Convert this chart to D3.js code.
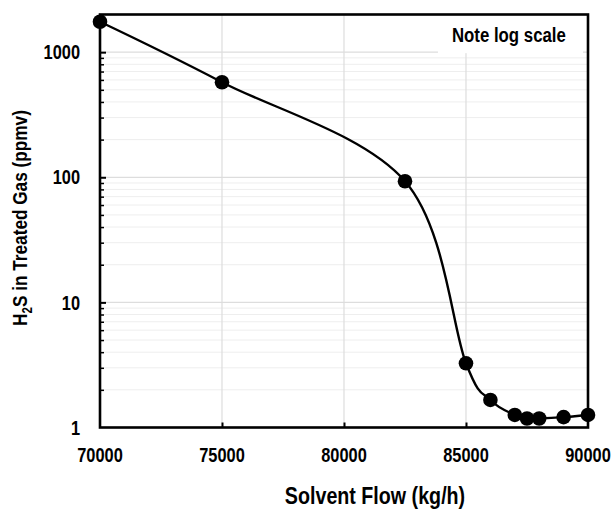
<!DOCTYPE html>
<html>
<head>
<meta charset="utf-8">
<script src="https://cdn.jsdelivr.net/npm/d3@7"></script>
<style>
    body { margin: 0; background: #fff; }
    svg text { font-family: Arial, "Liberation Sans", sans-serif; font-weight: bold; fill: #000; }
</style>
</head>
<body>
<div id="chart"></div>
<script>

// solvent flow (kg/h) and H2S in treated gas (ppmv)
const flows = [70000, 75000, 82500, 85000, 86000, 87000, 87500, 88000, 89000, 90000];
const h2s = [1750, 575, 93, 3.26, 1.66, 1.26, 1.18, 1.18, 1.21, 1.26];

const xTicks = [70000, 75000, 80000, 85000, 90000];
const yTicks = [1, 10, 100, 1000];
const noteText = "Note log scale";

const width = 613, height = 512;
const margin = {top: 14.5, right: 25, bottom: 84.5, left: 100};

// the original uses a narrow bold face, so squeeze the glyphs horizontally
const squeeze = 0.82;
function place(px, py, rot) {
    return "translate(" + px + "," + py + ")" + (rot ? " rotate(" + rot + ")" : "") + " scale(" + squeeze + ",1)";
}

const svg = d3.select("#chart").append("svg")
    .attr("width", width)
    .attr("height", height);

// scales
const x = d3.scaleLinear()
    .domain([70000, 90000])
    .range([margin.left, width - margin.right]);

const y = d3.scaleLog()
    .domain([1, 2000])
    .range([height - margin.bottom, margin.top]);

const data = flows.map((f, i) => ({flow: f, ppm: h2s[i]}));

// minor log gridlines (2..9 of every decade)
let minor = [];
yTicks.forEach(d => {
    for (let k = 2; k <= 9; k++) {
        if (d * k <= 2000) minor.push(d * k);
    }
});

svg.append("g")
    .selectAll("line")
    .data(minor)
    .enter()
    .append("line")
    .attr("x1", x.range()[0])
    .attr("x2", x.range()[1])
    .attr("y1", d => y(d))
    .attr("y2", d => y(d))
    .attr("stroke", "#eeeeee")
    .attr("stroke-width", 1);

svg.append("g")
    .selectAll("line")
    .data(yTicks.slice(1))
    .enter()
    .append("line")
    .attr("x1", x.range()[0])
    .attr("x2", x.range()[1])
    .attr("y1", d => y(d))
    .attr("y2", d => y(d))
    .attr("stroke", "#dddddd")
    .attr("stroke-width", 1.2);

svg.append("g")
    .selectAll("line")
    .data(xTicks.slice(1, -1))
    .enter()
    .append("line")
    .attr("x1", d => x(d))
    .attr("x2", d => x(d))
    .attr("y1", y.range()[0])
    .attr("y2", y.range()[1])
    .attr("stroke", "#dddddd")
    .attr("stroke-width", 1.2);

// note box covers the gridlines
const noteLeft = x(83850);
svg.append("rect")
    .attr("x", noteLeft)
    .attr("y", margin.top)
    .attr("width", x(90000) - noteLeft - 5)
    .attr("height", y(1000) - margin.top + 1)
    .attr("fill", "#fff");

svg.append("text")
    .attr("transform", place(noteLeft + 14, 42))
    .attr("font-size", 20.5)
    .text(noteText);

// inward ticks on the axes
const xAxis = d3.axisTop(x)
    .tickValues(xTicks.slice(1, -1))
    .tickSize(5)
    .tickFormat("");

svg.append("g")
    .attr("transform", "translate(0," + y.range()[0] + ")")
    .call(xAxis)
    .call(g => g.select(".domain").remove())
    .call(g => g.selectAll("line").attr("stroke", "#000").attr("stroke-width", 2));

const yMajor = d3.axisRight(y)
    .tickValues(yTicks.slice(1))
    .tickSize(6)
    .tickFormat("");

svg.append("g")
    .attr("transform", "translate(" + x.range()[0] + ",0)")
    .call(yMajor)
    .call(g => g.select(".domain").remove())
    .call(g => g.selectAll("line").attr("stroke", "#000").attr("stroke-width", 2));

const yMinor = d3.axisRight(y)
    .tickValues(minor)
    .tickSize(4)
    .tickFormat("");

svg.append("g")
    .attr("transform", "translate(" + x.range()[0] + ",0)")
    .call(yMinor)
    .call(g => g.select(".domain").remove())
    .call(g => g.selectAll("line").attr("stroke", "#000").attr("stroke-width", 1.5));

// frame
svg.append("rect")
    .attr("x", x.range()[0])
    .attr("y", y.range()[1])
    .attr("width", x.range()[1] - x.range()[0])
    .attr("height", y.range()[0] - y.range()[1])
    .attr("fill", "none")
    .attr("stroke", "#000")
    .attr("stroke-width", 2.6);

// tick labels
svg.append("g")
    .selectAll("text")
    .data(xTicks)
    .enter()
    .append("text")
    .attr("transform", d => place(x(d), 462))
    .attr("text-anchor", "middle")
    .attr("font-size", 20)
    .text(d => d);

svg.append("g")
    .selectAll("text")
    .data(yTicks)
    .enter()
    .append("text")
    .attr("transform", d => place(80, y(d)))
    .attr("dy", "0.36em")
    .attr("text-anchor", "end")
    .attr("font-size", 20)
    .text(d => d);

// axis titles
svg.append("text")
    .attr("transform", place(375, 504))
    .attr("text-anchor", "middle")
    .attr("font-size", 24)
    .text("Solvent Flow (kg/h)");

const yTitle = svg.append("text")
    .attr("transform", place(27, 218, -90))
    .attr("text-anchor", "middle")
    .attr("font-size", 21);
yTitle.append("tspan").text("H");
yTitle.append("tspan").attr("font-size", 14).attr("dy", 5).text("2");
yTitle.append("tspan").attr("dy", -5).text("S in Treated Gas (ppmv)");

// smoothed line and markers
const line = d3.line()
    .x(d => x(d.flow))
    .y(d => y(d.ppm))
    .curve(d3.curveCardinal.tension(0));

svg.append("path")
    .datum(data)
    .attr("d", line)
    .attr("fill", "none")
    .attr("stroke", "#000")
    .attr("stroke-width", 2.4);

svg.append("g")
    .selectAll("circle")
    .data(data)
    .enter()
    .append("circle")
    .attr("cx", d => x(d.flow))
    .attr("cy", d => y(d.ppm))
    .attr("r", 7.3)
    .attr("fill", "#000");

</script>
</body>
</html>
